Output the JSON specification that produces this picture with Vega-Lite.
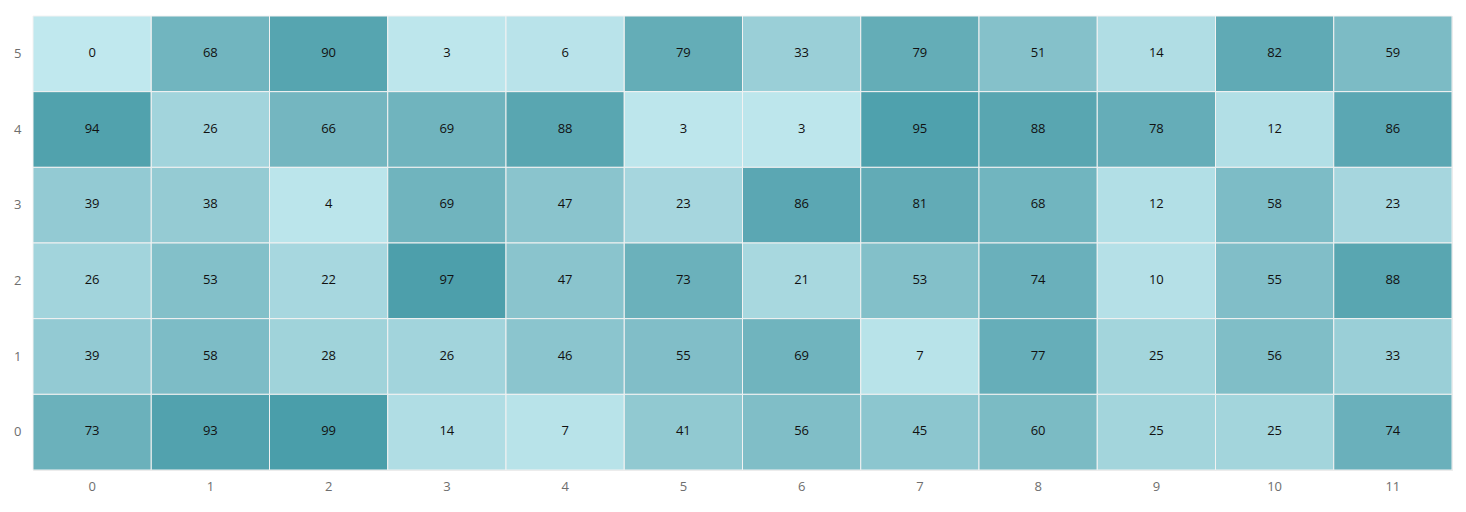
{
  "$schema": "https://vega.github.io/schema/vega-lite/v6.json",
  "width": 1419,
  "height": 454,
  "autosize": {"type": "none"},
  "padding": {"left": 33, "top": 16, "right": 14, "bottom": 42},
  "background": "#ffffff",
  "config": {
    "view": {"stroke": "#e6e6e6", "strokeWidth": 1},
    "font": "Open Sans",
    "axis": {
      "labelFont": "Open Sans",
      "labelFontSize": 13,
      "labelColor": "#6e6e6e",
      "ticks": false,
      "domain": false,
      "grid": false,
      "title": null
    }
  },
  "data": {
    "values": [
      {"col": 0, "row": 5, "value": 0}, {"col": 1, "row": 5, "value": 68}, {"col": 2, "row": 5, "value": 90}, {"col": 3, "row": 5, "value": 3}, {"col": 4, "row": 5, "value": 6}, {"col": 5, "row": 5, "value": 79}, {"col": 6, "row": 5, "value": 33}, {"col": 7, "row": 5, "value": 79}, {"col": 8, "row": 5, "value": 51}, {"col": 9, "row": 5, "value": 14}, {"col": 10, "row": 5, "value": 82}, {"col": 11, "row": 5, "value": 59},
      {"col": 0, "row": 4, "value": 94}, {"col": 1, "row": 4, "value": 26}, {"col": 2, "row": 4, "value": 66}, {"col": 3, "row": 4, "value": 69}, {"col": 4, "row": 4, "value": 88}, {"col": 5, "row": 4, "value": 3}, {"col": 6, "row": 4, "value": 3}, {"col": 7, "row": 4, "value": 95}, {"col": 8, "row": 4, "value": 88}, {"col": 9, "row": 4, "value": 78}, {"col": 10, "row": 4, "value": 12}, {"col": 11, "row": 4, "value": 86},
      {"col": 0, "row": 3, "value": 39}, {"col": 1, "row": 3, "value": 38}, {"col": 2, "row": 3, "value": 4}, {"col": 3, "row": 3, "value": 69}, {"col": 4, "row": 3, "value": 47}, {"col": 5, "row": 3, "value": 23}, {"col": 6, "row": 3, "value": 86}, {"col": 7, "row": 3, "value": 81}, {"col": 8, "row": 3, "value": 68}, {"col": 9, "row": 3, "value": 12}, {"col": 10, "row": 3, "value": 58}, {"col": 11, "row": 3, "value": 23},
      {"col": 0, "row": 2, "value": 26}, {"col": 1, "row": 2, "value": 53}, {"col": 2, "row": 2, "value": 22}, {"col": 3, "row": 2, "value": 97}, {"col": 4, "row": 2, "value": 47}, {"col": 5, "row": 2, "value": 73}, {"col": 6, "row": 2, "value": 21}, {"col": 7, "row": 2, "value": 53}, {"col": 8, "row": 2, "value": 74}, {"col": 9, "row": 2, "value": 10}, {"col": 10, "row": 2, "value": 55}, {"col": 11, "row": 2, "value": 88},
      {"col": 0, "row": 1, "value": 39}, {"col": 1, "row": 1, "value": 58}, {"col": 2, "row": 1, "value": 28}, {"col": 3, "row": 1, "value": 26}, {"col": 4, "row": 1, "value": 46}, {"col": 5, "row": 1, "value": 55}, {"col": 6, "row": 1, "value": 69}, {"col": 7, "row": 1, "value": 7}, {"col": 8, "row": 1, "value": 77}, {"col": 9, "row": 1, "value": 25}, {"col": 10, "row": 1, "value": 56}, {"col": 11, "row": 1, "value": 33},
      {"col": 0, "row": 0, "value": 73}, {"col": 1, "row": 0, "value": 93}, {"col": 2, "row": 0, "value": 99}, {"col": 3, "row": 0, "value": 14}, {"col": 4, "row": 0, "value": 7}, {"col": 5, "row": 0, "value": 41}, {"col": 6, "row": 0, "value": 56}, {"col": 7, "row": 0, "value": 45}, {"col": 8, "row": 0, "value": 60}, {"col": 9, "row": 0, "value": 25}, {"col": 10, "row": 0, "value": 25}, {"col": 11, "row": 0, "value": 74}
    ]
  },
  "encoding": {
    "x": {
      "field": "col",
      "type": "ordinal",
      "scale": {"paddingInner": 0, "paddingOuter": 0},
      "axis": {"labelAngle": 0, "labelPadding": 10}
    },
    "y": {
      "field": "row",
      "type": "ordinal",
      "sort": "descending",
      "scale": {"paddingInner": 0, "paddingOuter": 0},
      "axis": {"labelPadding": 12}
    }
  },
  "layer": [
    {
      "mark": {"type": "rect", "stroke": "#f2f2f2", "strokeWidth": 1},
      "encoding": {
        "color": {
          "field": "value",
          "type": "quantitative",
          "scale": {"domain": [0, 99], "range": ["#c0e8ee", "#4a9eaa"]},
          "legend": null
        }
      }
    },
    {
      "mark": {"type": "text", "fontSize": 13, "color": "#111111", "font": "Open Sans", "dy": -1},
      "encoding": {
        "text": {"field": "value", "type": "quantitative"}
      }
    }
  ]
}
